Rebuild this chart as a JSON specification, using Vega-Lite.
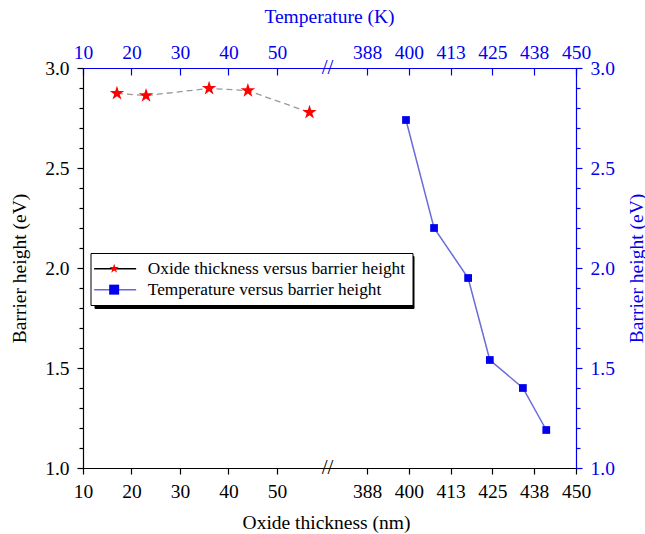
{
  "$schema": "https://vega.github.io/schema/vega-lite/v6.json",
  "background": "white",
  "padding": {"left": 9, "top": 6, "right": 5, "bottom": 3},
  "width": 493,
  "height": 400,
  "config": {
    "font": "Liberation Serif",
    "view": {"stroke": null},
    "axis": {"labelFontSize": 19.5, "titleFontSize": 19.5, "titleFontWeight": "normal", "labelFlush": false, "labelOverlap": false, "grid": false, "domainWidth": 1.2, "tickWidth": 1.2, "labelFont": "Liberation Serif", "titleFont": "Liberation Serif"}
  },
  "datasets": {
    "oxide": [
      {"thickness": 17, "barrier": 2.873, "series": "Oxide thickness versus barrier height"},
      {"thickness": 23, "barrier": 2.862, "series": "Oxide thickness versus barrier height"},
      {"thickness": 36, "barrier": 2.898, "series": "Oxide thickness versus barrier height"},
      {"thickness": 44, "barrier": 2.887, "series": "Oxide thickness versus barrier height"},
      {"thickness": 56.7, "barrier": 2.778, "series": "Oxide thickness versus barrier height"}
    ],
    "temp": [
      {"temperature": 399.1, "barrier": 2.74, "series": "Temperature versus barrier height"},
      {"temperature": 407.5, "barrier": 2.2, "series": "Temperature versus barrier height"},
      {"temperature": 417.7, "barrier": 1.95, "series": "Temperature versus barrier height"},
      {"temperature": 424.2, "barrier": 1.54, "series": "Temperature versus barrier height"},
      {"temperature": 434.1, "barrier": 1.4, "series": "Temperature versus barrier height"},
      {"temperature": 441.1, "barrier": 1.19, "series": "Temperature versus barrier height"}
    ]
  },
  "resolve": {"scale": {"x": "independent"}, "axis": {"x": "independent", "y": "independent"}},
  "layer": [
    {
      "data": {"name": "oxide"},
      "mark": {"type": "line", "color": "#999999", "strokeWidth": 1.3, "strokeDash": [6, 4]},
      "encoding": {
        "x": {"field": "thickness", "type": "quantitative", "scale": {"domain": [10, 111.65], "nice": false, "zero": false},
          "axis": {"orient": "bottom", "values": [10, 20, 30, 40, 50], "tickSize": 6, "labelPadding": 8, "domainColor": "black", "tickColor": "black", "labelColor": "black",
            "title": "Oxide thickness (nm)", "titleColor": "black", "titleX": 243, "titleY": 60, "titleBaseline": "alphabetic", "titleAlign": "center"}},
        "y": {"field": "barrier", "type": "quantitative", "scale": {"domain": [1, 3], "nice": false, "zero": false},
          "axis": {"orient": "left", "values": [1, 1.5, 2, 2.5, 3], "format": ".1f", "tickSize": 6, "labelPadding": 8, "domainColor": "black", "tickColor": "black", "labelColor": "black",
            "title": "Barrier height (eV)", "titleColor": "black", "titleAngle": 270, "titleX": -64, "titleY": 200, "titleBaseline": "middle", "titleAlign": "center"}}
      }
    },
    {
      "data": {"name": "temp"},
      "mark": {"type": "line", "color": "#6b6bd9", "strokeWidth": 1.5},
      "encoding": {
        "x": {"field": "temperature", "type": "quantitative", "scale": {"domain": [302.4, 450], "nice": false, "zero": false},
          "axis": {"orient": "bottom", "values": [387.5, 400, 412.5, 425, 437.5, 450], "labelExpr": "round(datum.value)", "tickSize": 6, "labelPadding": 8, "domainColor": "black", "tickColor": "black", "labelColor": "black", "title": null}},
        "y": {"field": "barrier", "type": "quantitative", "scale": {"domain": [1, 3], "nice": false, "zero": false},
          "axis": {"orient": "right", "values": [1, 1.5, 2, 2.5, 3], "format": ".1f", "tickSize": 6, "labelPadding": 8, "domainColor": "#0000ee", "tickColor": "#0000ee", "labelColor": "#0000ee",
            "title": "Barrier height (eV)", "titleColor": "#0000ee", "titleAngle": 270, "titleX": 60, "titleY": 200, "titleBaseline": "middle", "titleAlign": "center"}}
      }
    },
    {
      "data": {"name": "oxide"},
      "mark": {"type": "point", "filled": true, "size": 230, "opacity": 1},
      "encoding": {
        "x": {"field": "thickness", "type": "quantitative", "scale": {"domain": [10, 111.65], "nice": false, "zero": false},
          "axis": {"orient": "top", "values": [10, 20, 30, 40, 50], "tickSize": -7, "labelPadding": 13, "domainColor": "#0000ee", "tickColor": "#0000ee", "labelColor": "#0000ee",
            "title": "Temperature (K)", "titleColor": "#0000ee", "titleX": 246, "titleY": -46, "titleBaseline": "alphabetic", "titleAlign": "center"}},
        "y": {"field": "barrier", "type": "quantitative", "scale": {"domain": [1, 3], "nice": false, "zero": false},
          "axis": {"orient": "left", "values": [1.1, 1.2, 1.3, 1.4, 1.6, 1.7, 1.8, 1.9, 2.1, 2.2, 2.3, 2.4, 2.6, 2.7, 2.8, 2.9], "labels": false, "domain": false, "tickSize": 4, "tickColor": "black", "title": null}},
        "fill": {"field": "series", "type": "nominal", "scale": {"range": ["#ff0000", "#0000ee"]},
          "legend": {"orient": "none", "legendX": 6.5, "legendY": 185, "title": null, "symbolSize": 100, "symbolStrokeWidth": 0, "labelFontSize": 17.3, "labelFont": "Liberation Serif", "labelExpr": "' '", "labelOffset": 0, "symbolOffset": 9, "padding": 7, "rowPadding": 3, "zindex": 2, "labelLimit": 400}},
        "shape": {"field": "series", "type": "nominal", "scale": {"range": ["M0,-1L0.2245,-0.309L0.9511,-0.309L0.3633,0.118L0.5878,0.809L0,0.382L-0.5878,0.809L-0.3633,0.118L-0.9511,-0.309L-0.2245,-0.309Z", "square"]},
          "legend": {"orient": "none", "legendX": 6.5, "legendY": 185, "title": null, "symbolSize": 100, "symbolStrokeWidth": 0, "labelFontSize": 17.3, "labelFont": "Liberation Serif", "labelExpr": "' '", "labelOffset": 0, "symbolOffset": 9, "padding": 7, "rowPadding": 3, "zindex": 2, "labelLimit": 400}}
      }
    },
    {
      "data": {"name": "temp"},
      "mark": {"type": "point", "filled": true, "size": 60, "opacity": 1},
      "encoding": {
        "x": {"field": "temperature", "type": "quantitative", "scale": {"domain": [302.4, 450], "nice": false, "zero": false},
          "axis": {"orient": "top", "values": [387.5, 400, 412.5, 425, 437.5, 450], "labelExpr": "round(datum.value)", "tickSize": -7, "labelPadding": 13, "domainColor": "#0000ee", "tickColor": "#0000ee", "labelColor": "#0000ee", "title": null}},
        "y": {"field": "barrier", "type": "quantitative", "scale": {"domain": [1, 3], "nice": false, "zero": false},
          "axis": {"orient": "right", "values": [1.1, 1.2, 1.3, 1.4, 1.6, 1.7, 1.8, 1.9, 2.1, 2.2, 2.3, 2.4, 2.6, 2.7, 2.8, 2.9], "labels": false, "domain": false, "tickSize": 4, "tickColor": "#0000ee", "title": null}},
        "fill": {"field": "series", "type": "nominal"},
        "shape": {"field": "series", "type": "nominal"}
      }
    },
    {
      "data": {"name": "oxide"},
      "transform": [{"filter": "datum.barrier > 5"}],
      "mark": {"type": "line", "strokeWidth": 1.5},
      "encoding": {
        "x": {"field": "thickness", "type": "quantitative", "scale": {"domain": [10, 111.65], "nice": false, "zero": false}, "axis": null},
        "y": {"field": "barrier", "type": "quantitative", "scale": {"domain": [1, 3], "nice": false, "zero": false}, "axis": null},
        "stroke": {"field": "series", "type": "nominal",
          "scale": {"domain": ["Oxide thickness versus barrier height", "Temperature versus barrier height"], "range": ["#000000", "#6666dd"]},
          "legend": {"orient": "none", "legendX": 7.5, "legendY": 185, "title": null, "symbolType": "M-3,0H3", "symbolSize": 196, "symbolStrokeWidth": 1.5, "labelFontSize": 17.3, "labelFont": "Liberation Serif", "labelColor": "black", "labelOffset": 24, "symbolOffset": 9, "padding": 7, "rowPadding": 3, "strokeColor": "black", "fillColor": "white", "zindex": 1, "labelLimit": 400}},
        "strokeWidth": {"field": "series", "type": "ordinal",
          "scale": {"domain": ["Temperature versus barrier height", "Oxide thickness versus barrier height"], "range": [1.5, 1.5]},
          "legend": {"orient": "none", "legendX": 11.5, "legendY": 188, "title": null, "symbolType": "M-3,0H3", "symbolSize": 196, "labelFontSize": 17.3, "labelFont": "Liberation Serif", "labelExpr": "' '", "labelOffset": 278, "symbolOffset": 9, "padding": 7, "rowPadding": 3, "strokeColor": "black", "fillColor": "black", "zindex": 0, "labelLimit": 400}}
      }
    },
    {
      "data": {"values": [{"label": "break"}]},
      "mark": {"type": "text", "text": "//", "fontSize": 21, "color": "#0000ee", "dx": 2, "baseline": "middle", "align": "center"},
      "encoding": {"x": {"datum": 60, "type": "quantitative", "scale": {"domain": [10, 111.65], "nice": false, "zero": false}, "axis": null}, "y": {"datum": 3, "type": "quantitative", "scale": {"domain": [1, 3], "nice": false, "zero": false}, "axis": null}}
    },
    {
      "data": {"values": [{"label": "break"}]},
      "mark": {"type": "text", "text": "//", "fontSize": 21, "color": "black", "dx": 2, "baseline": "middle", "align": "center"},
      "encoding": {"x": {"datum": 60, "type": "quantitative", "scale": {"domain": [10, 111.65], "nice": false, "zero": false}, "axis": null}, "y": {"datum": 1, "type": "quantitative", "scale": {"domain": [1, 3], "nice": false, "zero": false}, "axis": null}}
    }
  ]
}
